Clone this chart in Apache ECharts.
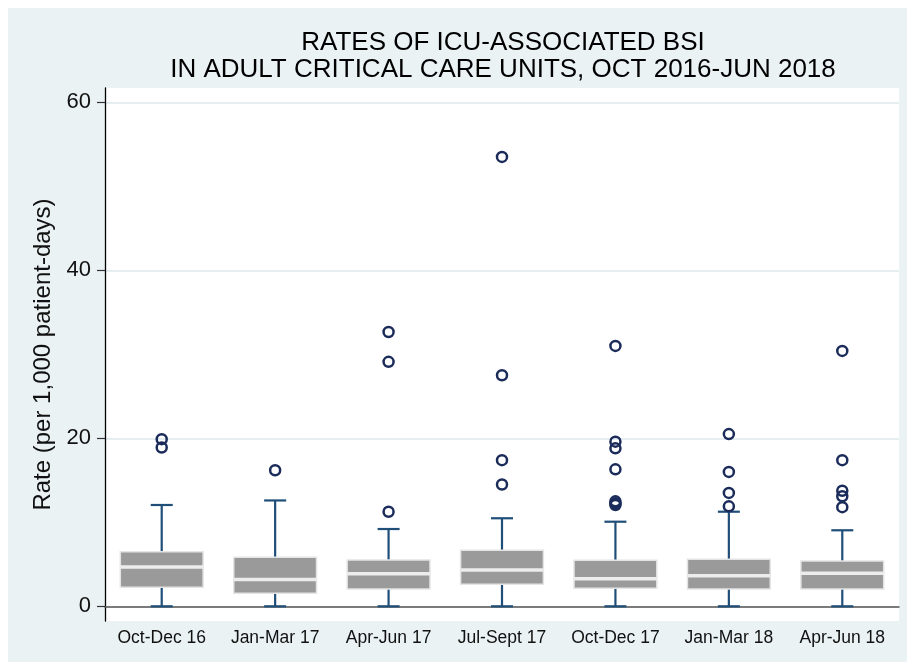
<!DOCTYPE html>
<html>
<head>
<meta charset="utf-8">
<script src="https://cdn.jsdelivr.net/npm/echarts@6/dist/echarts.min.js"></script>
<style>
  html, body { margin: 0; padding: 0; background: #fff; }
  #chart { position: absolute; left: 8px; top: 8px; width: 899px; height: 654px; }
</style>
</head>
<body>
<div id="chart"></div>
<script>
// quarters on the x axis
var quarters = ['Oct-Dec 16', 'Jan-Mar 17', 'Apr-Jun 17', 'Jul-Sept 17', 'Oct-Dec 17', 'Jan-Mar 18', 'Apr-Jun 18'];
// box statistics
var whiskerLow  = [0, 0, 0, 0, 0, 0, 0];
var q1          = [2.26, 1.55, 2.06, 2.62, 2.14, 2.06, 2.06];
var medians     = [4.68, 3.2, 3.88, 4.32, 3.29, 3.64, 3.93];
var q3          = [6.5, 5.83, 5.5, 6.67, 5.47, 5.6, 5.39];
var whiskerHigh = [12.06, 12.6, 9.2, 10.48, 10.07, 11.26, 9.05];
// outside values per quarter
var outliers = [
  [19.9, 18.9],
  [16.2],
  [11.26, 29.1, 32.65],
  [14.5, 17.4, 27.5, 53.5],
  [12.06, 12.26, 12.5, 16.3, 18.8, 19.6, 31.0],
  [11.9, 13.5, 16.0, 20.5],
  [11.8, 13.1, 13.76, 17.4, 30.4]
];
var yTicks = [0, 20, 40, 60];

var boxData = quarters.map(function (q, i) {
  return [i, whiskerLow[i], q1[i], medians[i], q3[i], whiskerHigh[i]];
});
var outlierData = [];
outliers.forEach(function (list, i) {
  list.forEach(function (v) { outlierData.push([i, v]); });
});

var font = "'Liberation Sans', Arial, sans-serif";
var whiskerColor = '#1f4e79';

function renderBox(params, api) {
  var x = api.value(0);
  var lo = api.coord([x, api.value(1)]);
  var b1 = api.coord([x, api.value(2)]);
  var md = api.coord([x, api.value(3)]);
  var b3 = api.coord([x, api.value(4)]);
  var hi = api.coord([x, api.value(5)]);
  var bw = api.size([1, 0])[0] * 0.73;
  var cap = 11;
  var cx = lo[0];
  var ws = { stroke: whiskerColor, lineWidth: 2.2 };
  return {
    type: 'group',
    children: [
      { type: 'line', shape: { x1: cx, y1: hi[1], x2: cx, y2: b3[1] }, style: ws },
      { type: 'line', shape: { x1: cx - cap, y1: hi[1], x2: cx + cap, y2: hi[1] }, style: ws },
      { type: 'line', shape: { x1: cx, y1: lo[1], x2: cx, y2: b1[1] }, style: ws },
      { type: 'line', shape: { x1: cx - cap, y1: lo[1], x2: cx + cap, y2: lo[1] }, style: ws },
      { type: 'rect', shape: { x: cx - bw / 2, y: b3[1], width: bw, height: b1[1] - b3[1] },
        style: { fill: '#9a9a9a', stroke: '#e4e4e4', lineWidth: 1.5 } },
      { type: 'line', shape: { x1: cx - bw / 2, y1: md[1], x2: cx + bw / 2, y2: md[1] },
        style: { stroke: '#ececec', lineWidth: 3.5 } }
    ]
  };
}

var myChart = echarts.init(document.getElementById('chart'));
myChart.setOption({
  backgroundColor: '#eaf2f3',
  animation: false,
  title: {
    text: 'RATES OF ICU-ASSOCIATED BSI\nIN ADULT CRITICAL CARE UNITS, OCT 2016-JUN 2018',
    left: 495,
    top: 21,
    padding: 0,
    textAlign: 'center',
    textStyle: { fontFamily: font, fontSize: 26, fontWeight: 'normal', color: '#000', lineHeight: 27 }
  },
  grid: {
    left: 97, right: 8, top: 80, bottom: 41,
    show: true, backgroundColor: '#fff', borderWidth: 0
  },
  xAxis: {
    type: 'category',
    data: quarters,
    boundaryGap: true,
    axisLine: { lineStyle: { color: '#555', width: 1.5 } },
    axisTick: { show: false },
    axisLabel: { fontFamily: font, fontSize: 17.5, color: '#111', margin: 8, interval: 0 },
    splitLine: { show: false }
  },
  yAxis: {
    type: 'value',
    min: -1.75,
    max: 61.7,
    name: 'Rate (per 1,000 patient-days)',
    nameLocation: 'middle',
    nameGap: 50,
    nameTextStyle: { fontFamily: font, fontSize: 24, color: '#111' },
    axisLine: { show: true, lineStyle: { color: '#000', width: 1.3 } },
    axisTick: { show: true, length: 8, customValues: yTicks, lineStyle: { color: '#333', width: 1.2 } },
    axisLabel: { fontFamily: font, fontSize: 22, color: '#111', margin: 14, customValues: yTicks },
    splitLine: { show: true, customValues: yTicks, lineStyle: { color: '#e6eef1', width: 2 } }
  },
  series: [
    {
      name: 'box',
      type: 'custom',
      renderItem: renderBox,
      data: boxData,
      encode: { x: 0, y: [1, 2, 3, 4, 5] },
      z: 2
    },
    {
      name: 'outside values',
      type: 'scatter',
      data: outlierData,
      symbol: 'circle',
      symbolSize: 10,
      itemStyle: { color: 'rgba(0,0,0,0)', borderColor: '#1b2b5a', borderWidth: 2.5, opacity: 1 },
      z: 3
    }
  ]
});
</script>
</body>
</html>
